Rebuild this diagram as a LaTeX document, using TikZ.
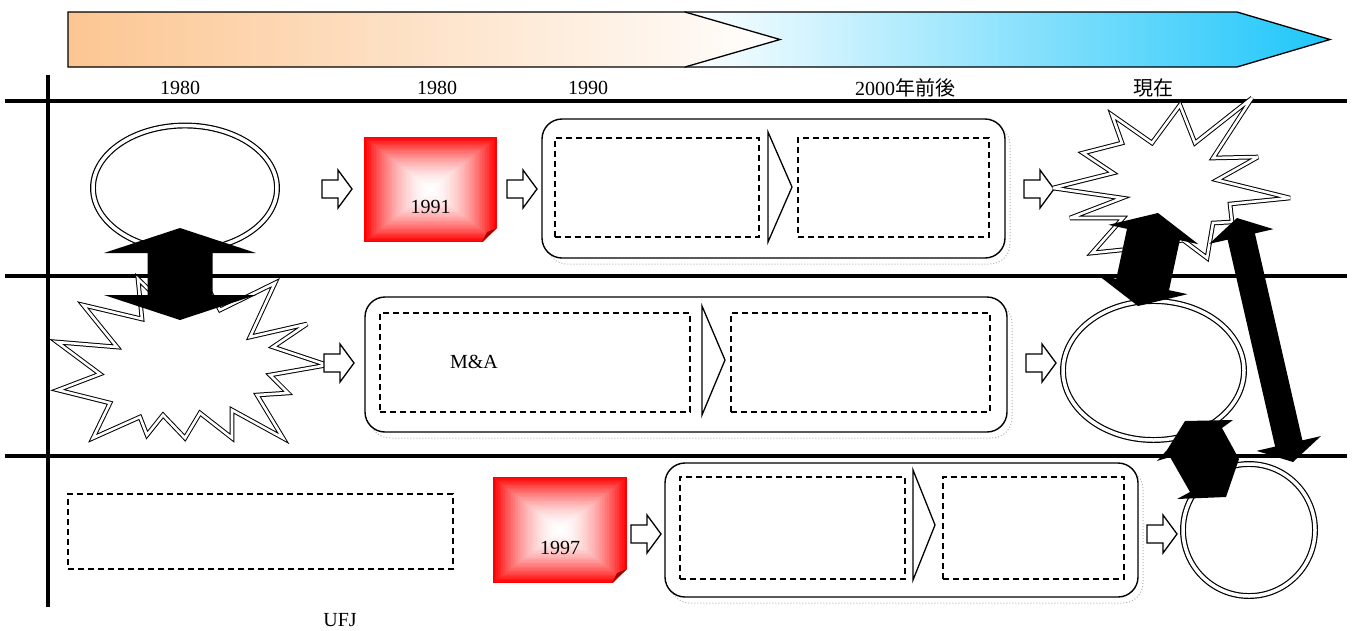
\documentclass[tikz,border=0pt]{standalone}
\usepackage{fontspec}
\setmainfont{Liberation Serif}
\newfontfamily\cjk{Noto Sans CJK JP}
\usetikzlibrary{calc,shapes.geometric}

\definecolor{barorange}{RGB}{252,198,146}
\definecolor{barblue}{RGB}{30,198,250}
\definecolor{foldred}{RGB}{165,0,0}

\tikzset{
  rule/.style={line width=3.3pt},
  lbl/.style={font=\fontsize{20}{24}\selectfont, inner sep=0pt},
  stage/.style={draw, line width=1.4pt, rounded corners=20pt, fill=white, inner sep=0pt},
  stageshadow/.style={draw=gray!60, dotted, line width=1pt, rounded corners=20pt, inner sep=0pt},
  slot/.style={draw, dash pattern=on 6pt off 4pt, line width=1.2pt, inner sep=0pt},
  wedge/.style={draw, line width=1.3pt, fill=white, line join=miter},
  ring/.style={draw, double, double distance=3.5pt, line width=1.2pt, fill=white, inner sep=0pt},
  burst/.style={draw, double, double distance=2.6pt, line width=1pt, fill=white, line join=miter, miter limit=4},
  hollow/.style={draw, line width=1.3pt, fill=white, line join=miter},
  pics/rarrow/.style={code={
    \draw[hollow] (0,-9) -- (16,-9) -- (16,-19) -- (30,0) -- (16,19) -- (16,9) -- (0,9) -- cycle;}},
}

% rectangular red-to-white gradient card with a folded corner
% #1 name, #2 centre x, #3 centre y, #4 half width, #5 half height
\newcommand\notecard[5]{%
  \foreach \k in {0,...,40}{%
    \pgfmathsetmacro\t{1-\k/40}%
    \pgfmathsetmacro\p{100*\t^1.8}%
    \fill[red!\p!white] (#2-#4*\t,#3-#5*\t) rectangle (#2+#4*\t,#3+#5*\t);
  }%
  \fill[white] (#2+#4-15,#3+#5+1) -- (#2+#4+1,#3+#5+1) -- (#2+#4+1,#3+#5-15) -- cycle;
  \fill[foldred] (#2+#4-15,#3+#5) -- (#2+#4,#3+#5-14) -- (#2+#4-10,#3+#5-10) -- cycle;
  \node[minimum width=2*#4 pt, minimum height=2*#5 pt, inner sep=0pt] (#1) at (#2,#3) {};
}

% solid double-headed block arrow between two tips
% #1,#2 tips, #3 shaft half width, #4 head half width, #5 head length
\newcommand\twinarrow[5]{%
  \coordinate (tA) at (#1);
  \coordinate (tB) at (#2);
  \coordinate (hA) at ($(tA)!#5!(tB)$);
  \coordinate (hB) at ($(tB)!#5!(tA)$);
  \fill (tA) -- ($(hA)!#4!90:(tB)$) -- ($(hA)!#3!90:(tB)$) -- ($(hB)!#3!-90:(tA)$)
        -- ($(hB)!#4!-90:(tA)$) -- (tB) -- ($(hB)!#4!90:(tA)$) -- ($(hB)!#3!90:(tA)$)
        -- ($(hA)!#3!-90:(tB)$) -- ($(hA)!#4!-90:(tB)$) -- cycle;
}

\begin{document}
\begin{tikzpicture}[x=1pt,y=-1pt]
\useasboundingbox (0,0) rectangle (1354,630);

% ---- time bar ----
\shadedraw[left color=white, right color=barblue, line width=1.3pt, line join=miter]
  (685,12) -- (1237,12) -- (1330,39.5) -- (1237,67) -- (685,67) -- cycle;
\shadedraw[left color=barorange, right color=white, line width=1.3pt, line join=miter]
  (68,12) -- (685,12) -- (780,39.5) -- (685,67) -- (68,67) -- cycle;

% ---- period labels ----
\node[lbl] (y1980a) at (180,88) {1980};
\node[lbl] (y1980b) at (437,88) {1980};
\node[lbl] (y1990)  at (588,88) {1990};
\node[lbl] (y2000)  at (905,88) {2000{\cjk 年前後}};
\node[lbl] (ynow)   at (1153,88) {\cjk 現在};

% ---- grid rules ----
\draw[rule] (5,101) -- (1347,101);
\draw[rule] (5,276) -- (1347,276);
\draw[rule] (5,456) -- (1347,456);
\draw[rule] (48,75) -- (48,607);

% ================= row 1 =================
\node[ring, ellipse, minimum width=184pt, minimum height=125pt] (oval1) at (185,188) {};
\pic (ar1) at (322,189) {rarrow};
\notecard{card1991}{430.5}{189.5}{66.5}{52.5}
\node[lbl] (t1991) at (430.5,207) {1991};
\pic (ar2) at (507,189) {rarrow};

\node[stageshadow, minimum width=463pt, minimum height=139pt] (stage1s) at (778.5,194.5) {};
\node[stage, minimum width=463pt, minimum height=139pt] (stage1) at (773.5,188.5) {};
\node[slot, minimum width=204pt, minimum height=99pt] (s1a) at (657,187.5) {};
\node[slot, minimum width=191pt, minimum height=99pt] (s1b) at (893.5,187.5) {};
\draw[wedge] (768,132) -- (792,187) -- (768,242) -- cycle;

\pic (ar3) at (1024,189) {rarrow};
\draw[burst] (1053,188) -- (1113,173) -- (1083,153) -- (1122,143) -- (1112,115) -- (1152,143)
  -- (1180,105) -- (1195,143) -- (1252,98) -- (1213,158) -- (1258,157) -- (1217,180)
  -- (1290,198) -- (1230,204) -- (1232,222) -- (1213,223) -- (1207,258) -- (1183,240)
  -- (1150,247) -- (1092,253) -- (1123,218) -- (1070,218) -- (1122,198) -- cycle;

% ================= row 2 =================
\draw[burst] (138,279) -- (165,305) -- (205,283) -- (220,310) -- (275,283) -- (250,337)
  -- (307,324) -- (273,347) -- (327,365) -- (270,375) -- (288,393) -- (257,395)
  -- (283,438) -- (232,410) -- (232,438) -- (200,413) -- (185,438) -- (163,415)
  -- (147,435) -- (140,417) -- (93,438) -- (110,403) -- (58,390) -- (100,374)
  -- (57,342) -- (117,347) -- (83,305) -- (142,319) -- cycle;
\pic (ar4) at (324,363) {rarrow};

\node[stageshadow, minimum width=642pt, minimum height=135pt] (stage2s) at (691,370.5) {};
\node[stage, minimum width=642pt, minimum height=135pt] (stage2) at (686,364.5) {};
\node[slot, minimum width=310pt, minimum height=99pt] (s2a) at (535,362.5) {};
\node[slot, minimum width=259pt, minimum height=99pt] (s2b) at (860.5,362.5) {};
\draw[wedge] (702,306) -- (725,360) -- (702,415) -- cycle;
\node[lbl] (tma) at (474,362) {M\&A};

\pic (ar5) at (1026,363) {rarrow};
\node[ring, ellipse, minimum width=181pt, minimum height=139pt] (oval2) at (1153.5,370.5) {};

% ================= row 3 =================
\node[slot, minimum width=385pt, minimum height=75pt] (s3l) at (260.5,531.5) {};
\notecard{card1997}{560}{530}{67}{53}
\node[lbl] (t1997) at (560,548) {1997};
\pic (ar6) at (631,534) {rarrow};

\node[stageshadow, minimum width=473pt, minimum height=134pt] (stage3s) at (906.5,536) {};
\node[stage, minimum width=473pt, minimum height=134pt] (stage3) at (901.5,530) {};
\node[slot, minimum width=225pt, minimum height=102pt] (s3a) at (792.5,528) {};
\node[slot, minimum width=181pt, minimum height=102pt] (s3b) at (1033.5,528) {};
\draw[wedge] (913,470) -- (935,525) -- (913,580) -- cycle;

\pic (ar7) at (1147,534) {rarrow};
\node[ring, circle, minimum size=132pt] (ring3) at (1249,530) {};

\node[lbl] (tufj) at (340,620) {UFJ};

% ---- black linking arrows ----
\twinarrow{180,228}{180,320}{32.5pt}{76pt}{25pt}
\twinarrow{1158,213}{1138,306}{27pt}{46pt}{22pt}
\twinarrow{1237,218}{1293,462}{14pt}{33pt}{19pt}
\fill (1185,421) -- (1233,420) -- (1222,428) -- (1239,459) -- (1226,497) -- (1177,499)
  -- (1190,492) -- (1170,457) -- (1157,461) -- (1167,450) -- cycle;
\end{tikzpicture}
\end{document}
